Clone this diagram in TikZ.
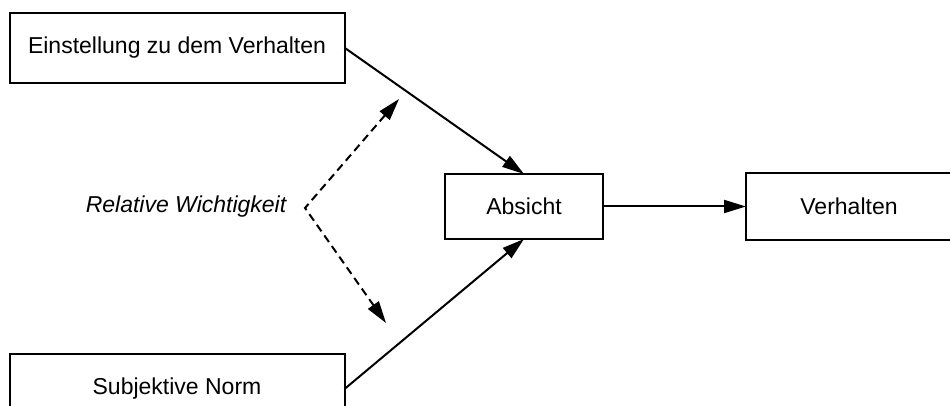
\documentclass[tikz,border=0pt]{standalone}
\usepackage{fontspec}
\setmainfont{Liberation Sans}
\usetikzlibrary{arrows.meta}
\begin{document}
\begin{tikzpicture}[x=1pt,y=-1pt,
  box/.style={draw=black,line width=2pt,rectangle,inner sep=0pt,outer sep=0pt,
    font=\fontsize{23}{27}\selectfont},
  conn/.style={line width=2pt,-{Triangle[length=22pt,width=13pt]}},
  dconn/.style={line width=2pt,dash pattern=on 8pt off 5pt,
    {Triangle[length=22pt,width=13pt]}-{Triangle[length=22pt,width=13pt]}},
  lbl/.style={font=\fontsize{23}{27}\selectfont\itshape,inner sep=0pt}
]
\useasboundingbox (0,0) rectangle (950,406);
\clip (0,0) rectangle (950,406);
\node[box,minimum width=335pt,minimum height=70pt] (einst) at (177,47.7) {Einstellung zu dem Verhalten};
\node[box,minimum width=335pt,minimum height=70pt] (norm) at (177,389) {Subjektive Norm};
\node[box,minimum width=158pt,minimum height=65pt] (absicht) at (524,206.5) {Absicht};
\node[box,minimum width=206pt,minimum height=66pt] (verh) at (849,206.5) {Verhalten};
\node[lbl] (rw) at (186,207) {Relative Wichtigkeit};
\coordinate (apex) at (305,208);
\coordinate (dtop) at (399,99);
\coordinate (dbot) at (386,323);
\draw[conn] (einst.east) -- (absicht.north);
\draw[conn] (norm.east) -- (absicht.south);
\draw[conn] (absicht.east) -- (verh.west);
\draw[dconn] (dtop) -- (apex) -- (dbot);
\end{tikzpicture}
\end{document}
